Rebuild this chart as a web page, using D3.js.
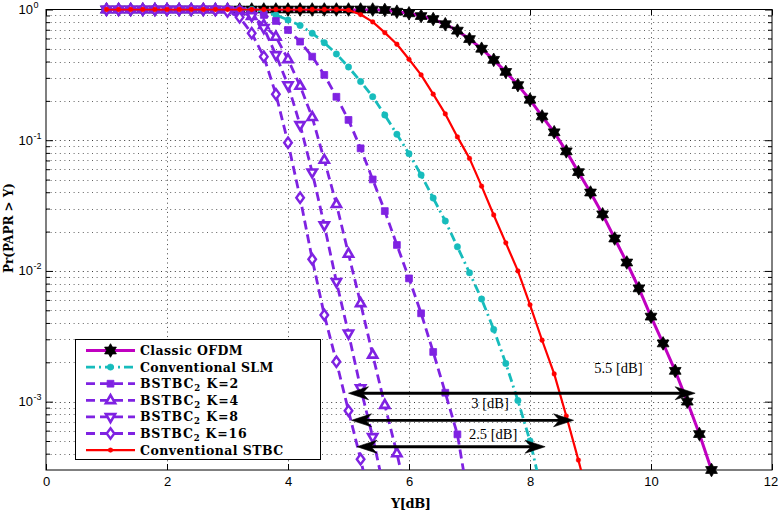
<!DOCTYPE html>
<html><head><meta charset="utf-8">
<script src="https://cdn.jsdelivr.net/npm/d3@7"></script>
<style>body{margin:0;background:#fff}svg{display:block}</style>
</head><body>
<svg id="c" width="778" height="512"></svg>
<script>
// ---------- data ----------
const yDB = [1.0,1.2,1.4,1.6,1.8,2.0,2.2,2.4,2.6,2.8,3.0,3.2,3.4,3.6,3.8,4.0,4.2,4.4,4.6,4.8,5.0,5.2,5.4,5.6,5.8,6.0,6.2,6.4,6.6,6.8,7.0,7.2,7.4,7.6,7.8,8.0,8.2,8.4,8.6,8.8,9.0,9.2,9.4,9.6,9.8,10.0,10.2,10.4,10.6,10.8,11.0];

const classicOFDM = [1,1,1,1,1,1,1,1,1,1,1,1,1,1,1,1,1,1,1,1,1,1,0.999,
  0.991,0.962,0.935,0.891,0.845,0.771,0.689,0.594,0.501,0.412,0.333,0.264,0.204,0.152,0.115,
  0.0822,0.0570,0.0398,0.0271,0.0177,0.0116,0.00736,0.00447,0.00279,0.00172,0.00100,0.000565,0.000300];
const conventionalSLM = [1,1,1,1,1,1,1,1,1,1,1,1,1,
  0.962,0.908,0.832,0.755,0.658,0.557,0.457,0.363,0.281,0.215,0.156,0.111,0.0789,0.0542,0.0361,
  0.0241,0.0153,0.00968,0.00610,0.00357,0.00196,0.00102,0.000501,0.000200];
const bstbcK2 = [1,1,1,1,1,1,1,1,1,1,1,
  0.989,0.966,0.908,0.817,0.697,0.568,0.436,0.316,0.215,0.143,0.0867,0.0501,0.0287,0.0158,
  0.00877,0.00474,0.00240,0.00117,0.000562,0.000158];
const bstbcK4 = [1,1,1,1,1,1,1,1,1,1,1,
  0.973,0.891,0.759,0.617,0.416,0.260,0.150,0.0706,0.0324,0.0135,0.00565,0.00228,0.000942,0.000402,0.000158];
const bstbcK8 = [1,1,1,1,1,1,1,1,1,1,
  0.991,0.966,0.891,0.724,0.449,0.264,0.131,0.0569,0.0224,0.00826,0.00333,0.00127,0.000537,0.000200];
const bstbcK16 = [1,1,1,1,1,1,1,1,1,
  0.991,0.966,0.871,0.658,0.436,0.225,0.0957,0.0363,0.0123,0.00460,0.00202,0.000851,0.000363,0.000141];
const conventionalSTBC = [1,1,1,1,1,1,1,1,1,1,1,1,1,1,1,1,1,1,1,1,
  0.990,0.915,0.804,0.665,0.542,0.416,0.316,0.225,0.159,0.106,0.0726,0.0445,0.0268,0.0164,0.0100,
  0.00550,0.00295,0.00163,0.000776,0.000357,0.000158];

const xTicks = [0,2,4,6,8,10,12];
const yTicks = [1e-3,1e-2,1e-1,1];
const yTickExp = ["-3","-2","-1","0"];
const seriesNames = ["Classic OFDM","Conventional SLM","BSTBC|2| K=2","BSTBC|2| K=4","BSTBC|2| K=8","BSTBC|2| K=16","Conventional STBC"];
const gapLabels = ["5.5 [dB]","3 [dB]","2.5 [dB]"];
const gapLabelX = [9.46,7.34,7.39];
const gapLabelY = [1.8e-3,9.8e-4,5.65e-4];
const gapFrom = [5.0,5.05,5.14];
const gapTo = [10.73,8.72,8.25];
const gapAt = [1.16e-3,7.2e-4,4.52e-4];

// ---------- layout ----------
const L=46, R=772, T=9.5, B=470;
const svg = d3.select("#c");
const x = d3.scaleLinear().domain([0,12]).range([L,R]);
const y = d3.scaleLog().domain([3e-4,1]).range([B,T]);

const PURPLE="#7f22e2", MAG="#c000c0", CYAN="#17bcbc", RED="#ff0000";
const serif = "'DejaVu Serif', 'Liberation Serif', serif";
const sans = "'Liberation Sans', Arial, Helvetica, sans-serif";

// grid values
const minorY = [];
for (let d=-4; d<=0; d++) for (let m=1; m<=9; m++) { const v=m*Math.pow(10,d); if (v>=3e-4*1.001 && v<=1*0.999) minorY.push(v); }
const majorYset = new Set([1e-3,1e-2,1e-1]);

const grid = svg.append("g");
grid.selectAll("line.h").data(minorY).join("line")
  .attr("x1",L).attr("x2",R).attr("y1",d=>Math.round(y(d))+0.5).attr("y2",d=>Math.round(y(d))+0.5)
  .attr("stroke","#222").attr("stroke-width",1).attr("stroke-dasharray","1,3.6")
  .attr("opacity",d=>majorYset.has(d)?0.9:0.7);
grid.selectAll("line.v").data(xTicks.filter(v=>v>0&&v<12)).join("line")
  .attr("x1",d=>Math.round(x(d))+0.5).attr("x2",d=>Math.round(x(d))+0.5).attr("y1",T).attr("y2",B)
  .attr("stroke","#222").attr("stroke-width",1).attr("stroke-dasharray","1,3.6").attr("opacity",0.85);

// axes (ticks inward)
const axB = svg.append("g").attr("transform",`translate(0,${B})`)
  .call(d3.axisBottom(x).tickValues(xTicks).tickSizeInner(-6).tickSizeOuter(0).tickPadding(7).tickFormat(d3.format("d")));
const axT = svg.append("g").attr("transform",`translate(0,${T})`)
  .call(d3.axisTop(x).tickValues(xTicks).tickSizeInner(-6).tickSizeOuter(0).tickFormat(""));
const axL = svg.append("g").attr("transform",`translate(${L},0)`)
  .call(d3.axisLeft(y).tickValues(yTicks).tickSizeInner(-7).tickSizeOuter(0).tickFormat(""));
const axLm = svg.append("g").attr("transform",`translate(${L},0)`)
  .call(d3.axisLeft(y).tickValues(minorY.filter(v=>!majorYset.has(v))).tickSizeInner(-4).tickSizeOuter(0).tickFormat(""));
const axR = svg.append("g").attr("transform",`translate(${R},0)`)
  .call(d3.axisRight(y).tickValues(yTicks).tickSizeInner(-7).tickSizeOuter(0).tickFormat(""));
const axRm = svg.append("g").attr("transform",`translate(${R},0)`)
  .call(d3.axisRight(y).tickValues(minorY.filter(v=>!majorYset.has(v))).tickSizeInner(-4).tickSizeOuter(0).tickFormat(""));
[axB,axT,axL,axLm,axR,axRm].forEach(a=>{ a.select(".domain").remove(); a.selectAll("line").attr("stroke","#000"); });
axB.selectAll("text").attr("font-family",sans).attr("font-size",13).attr("fill","#000");
axB.selectAll("text").filter(d=>d===12).attr("dx",-1.5);

// y tick labels with superscripts
const yl = svg.append("g");
yTicks.forEach((v,i)=>{
  const py = y(v);
  yl.append("text").attr("x",33).attr("y",py+4.5).attr("text-anchor","end")
    .attr("font-family",sans).attr("font-size",13).text("10");
  yl.append("text").attr("x",33.5).attr("y",py-1.5).attr("text-anchor","start")
    .attr("font-family",sans).attr("font-size",9).text(yTickExp[i]);
});

// frame
svg.append("rect").attr("x",L).attr("y",T).attr("width",R-L).attr("height",B-T)
  .attr("fill","none").attr("stroke","#000").attr("stroke-width",1);

// ---------- markers ----------
function hexagram(r){ const pts=[]; for(let k=0;k<12;k++){ const a=-Math.PI/2+k*Math.PI/6; const rr=(k%2===0)?r:r/Math.sqrt(3); pts.push([rr*Math.cos(a),rr*Math.sin(a)]);} return "M"+pts.map(p=>p.join(",")).join("L")+"Z"; }
const markerDefs = {
  hex:   {d:hexagram(6.8), fill:"#000", stroke:"#000", sw:0.8},
  circle:{d:"M3.2,0A3.2,3.2 0 1,1 -3.2,0A3.2,3.2 0 1,1 3.2,0Z", fill:CYAN, stroke:CYAN, sw:0.5},
  square:{d:"M-3.4,-3.4H3.4V3.4H-3.4Z", fill:PURPLE, stroke:PURPLE, sw:0.8},
  triUp: {d:"M0,-5.2L4.6,2.8L-4.6,2.8Z", fill:"#fff", stroke:PURPLE, sw:2.6},
  triDn: {d:"M0,5.2L4.6,-2.8L-4.6,-2.8Z", fill:"#fff", stroke:PURPLE, sw:2.6},
  diam:  {d:"M0,-5.2L3.8,0L0,5.2L-3.8,0Z", fill:"#fff", stroke:PURPLE, sw:2.4},
  dot:   {d:"M2.4,0A2.4,2.4 0 1,1 -2.4,0A2.4,2.4 0 1,1 2.4,0Z", fill:RED, stroke:RED, sw:0.3}
};

const series = [
  {values:classicOFDM, color:MAG, width:3, dash:null, marker:"hex"},
  {values:conventionalSLM, color:CYAN, width:2.8, dash:"9,4,2,4", marker:"circle"},
  {values:bstbcK2, color:PURPLE, width:2.8, dash:"9,5", marker:"square"},
  {values:bstbcK4, color:PURPLE, width:2.8, dash:"9,5", marker:"triUp"},
  {values:bstbcK8, color:PURPLE, width:2.8, dash:"9,5", marker:"triDn"},
  {values:bstbcK16, color:PURPLE, width:2.8, dash:"9,5", marker:"diam"},
  {values:conventionalSTBC, color:RED, width:2.2, dash:null, marker:"dot"}
];

svg.append("clipPath").attr("id","plotclip").append("rect")
  .attr("x",L).attr("y",T-1).attr("width",R-L).attr("height",B-T+1);

const line = d3.line().x(d=>x(d[0])).y(d=>y(d[1]));
const plot = svg.append("g");
series.forEach(s=>{
  const pts = s.values.map((v,i)=>[yDB[i],v]);
  const g = plot.append("g");
  g.append("path").attr("d",line(pts)).attr("fill","none").attr("stroke",s.color)
    .attr("stroke-width",s.width).attr("stroke-dasharray",s.dash).attr("stroke-linejoin","round")
    .attr("clip-path","url(#plotclip)");
  const m = markerDefs[s.marker];
  g.selectAll("path.mk").data(pts.filter(p=>p[1]>=2.95e-4)).join("path").attr("class","mk")
    .attr("transform",p=>`translate(${x(p[0])},${y(p[1])})`)
    .attr("d",m.d).attr("fill",m.fill).attr("stroke",m.stroke).attr("stroke-width",m.sw);
});

// ---------- gap arrows ----------
function head(g, tx, ty, dir){
  const p = [[0,0],[-20*dir,-6.5],[-14*dir,0],[-20*dir,6.5]];
  g.append("path").attr("d","M"+p.map(q=>[q[0]+tx,q[1]+ty].join(",")).join("L")+"Z").attr("fill","#000").attr("stroke","#000").attr("stroke-width",0.6);
}
const ann = svg.append("g");
gapFrom.forEach((x1,i)=>{
  const X1=x(x1), X2=x(gapTo[i]), Y=y(gapAt[i]);
  ann.append("line").attr("x1",X1+6).attr("x2",X2-6).attr("y1",Y).attr("y2",Y).attr("stroke","#000").attr("stroke-width",2.8);
  head(ann,X1,Y,-1); head(ann,X2,Y,1);
});
gapLabels.forEach((t,i)=>{
  ann.append("text").attr("x",x(gapLabelX[i])).attr("y",y(gapLabelY[i])+5).attr("text-anchor","middle")
    .attr("font-family","'Liberation Serif','Times New Roman',serif").attr("font-size",14.5).text(t);
});

// ---------- legend ----------
const lg = svg.append("g");
lg.append("rect").attr("x",75.5).attr("y",339.5).attr("width",245).attr("height",120)
  .attr("fill","#fff").attr("stroke","#000").attr("stroke-width",1);
const legendWidths = [102.7,133.3,98.3,98.3,98,106.7,143.3];
series.forEach((s,i)=>{
  const cy = 350.5 + i*16.6;
  lg.append("line").attr("x1",86).attr("x2",135).attr("y1",cy).attr("y2",cy)
    .attr("stroke",s.color).attr("stroke-width",s.width).attr("stroke-dasharray",s.dash);
  const m = markerDefs[s.marker];
  lg.append("path").attr("transform",`translate(110.5,${cy})`).attr("d",m.d)
    .attr("fill",m.fill).attr("stroke",m.stroke).attr("stroke-width",m.sw);
  const parts = seriesNames[i].split("|");
  const t = lg.append("text").attr("x",140).attr("y",cy+4.5)
    .attr("font-family",serif).attr("font-weight","bold").attr("font-size",12.5);
  parts.forEach((p,j)=>{
    const ts = t.append("tspan").text(p);
    if (j===1) ts.attr("font-size",8.5).attr("dy",3);
    if (j===2) ts.attr("dy",-3);
  });
  t.attr("textLength",legendWidths[i]).attr("lengthAdjust","spacing");
});

// ---------- axis titles ----------
svg.append("text").attr("x",411).attr("y",508).attr("text-anchor","middle")
  .attr("font-family",serif).attr("font-weight","bold").attr("font-size",13)
  .attr("textLength",40).attr("lengthAdjust","spacing").text("Y[dB]");
svg.append("text").attr("transform","translate(13,228) rotate(-90)").attr("text-anchor","middle")
  .attr("font-family",serif).attr("font-weight","bold").attr("font-size",12)
  .attr("textLength",90).attr("lengthAdjust","spacing").text("Pr(PAPR > Y)");
</script>
</body></html>
